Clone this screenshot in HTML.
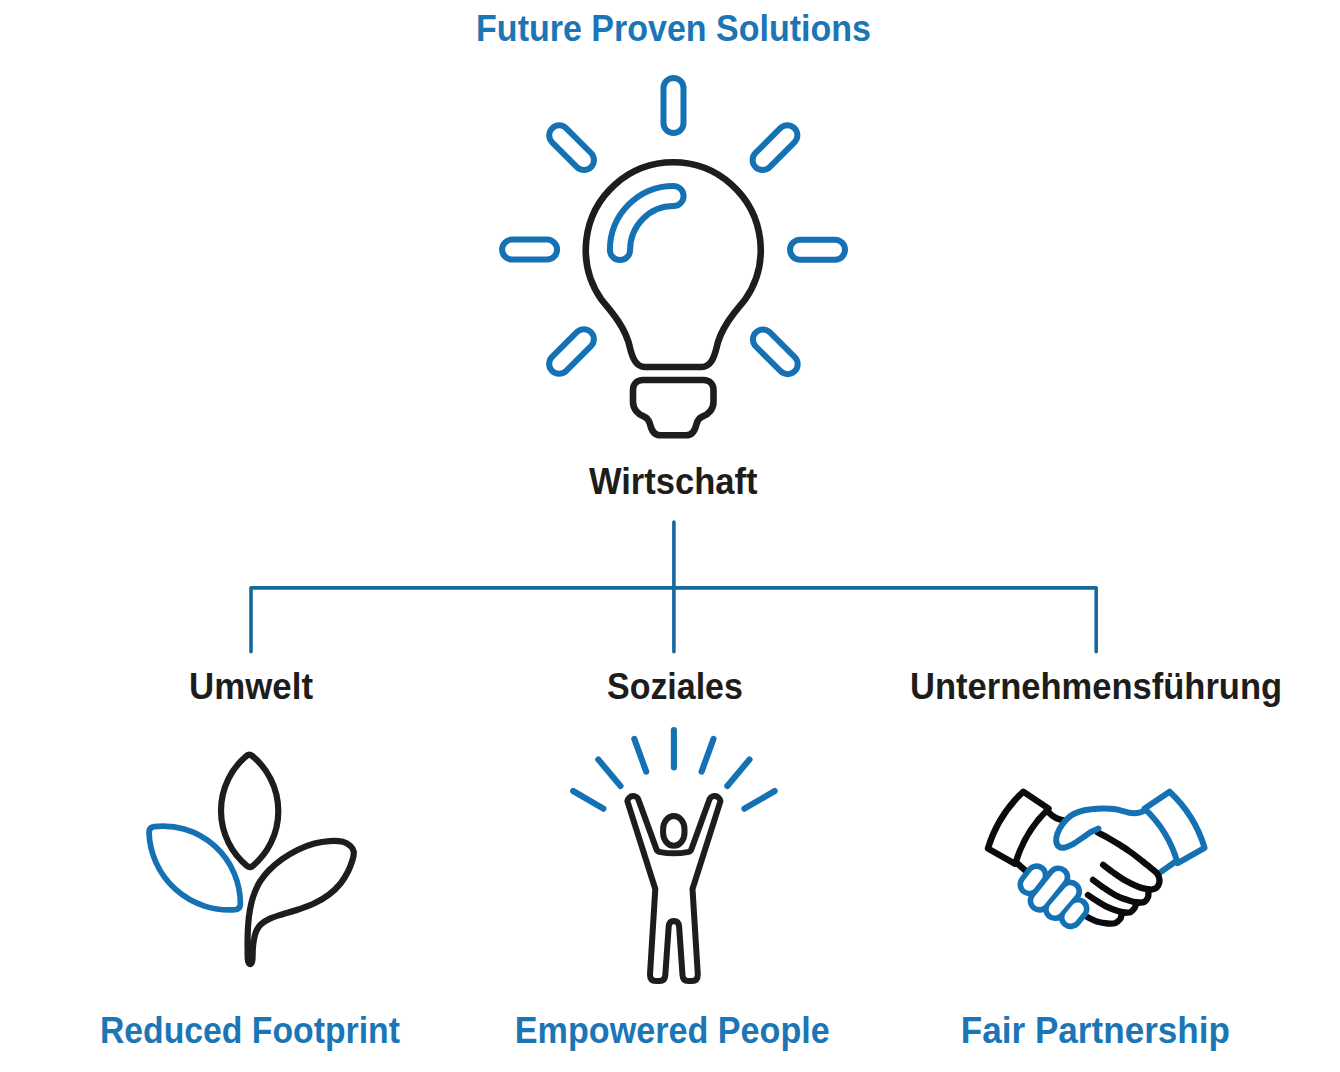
<!DOCTYPE html>
<html lang="de">
<head>
<meta charset="utf-8">
<title>Future Proven Solutions</title>
<style>
  html, body { margin: 0; padding: 0; background: #ffffff; }
  body { width: 1340px; height: 1072px; overflow: hidden; position: relative;
         font-family: "Liberation Sans", sans-serif; }
  svg { position: absolute; left: 0; top: 0; display: block; }
  text { font-family: "Liberation Sans", sans-serif; font-weight: bold; font-size: 36px; }
  .blue { fill: #1c76b6; }
  .dark { fill: #1d1d1b; }
  .sb { fill: none; stroke: #1472b4; stroke-linecap: round; stroke-linejoin: round; }
  .sk { fill: none; stroke: #1d1d1b; stroke-linecap: round; stroke-linejoin: round; }
  .sw { fill: none; stroke: #ffffff; stroke-linecap: round; stroke-linejoin: round; }
</style>
</head>
<body>
<svg width="1340" height="1072" viewBox="0 0 1340 1072">

  <!-- ======== TEXT ======== -->
  <g id="labels">
    <text class="blue" x="476.1" y="41" textLength="394.8" lengthAdjust="spacingAndGlyphs">Future Proven Solutions</text>
    <text class="dark" x="589" y="494" textLength="168.5" lengthAdjust="spacingAndGlyphs">Wirtschaft</text>
    <text class="dark" x="189.1" y="699" textLength="123.9" lengthAdjust="spacingAndGlyphs">Umwelt</text>
    <text class="dark" x="607" y="699" textLength="135.9" lengthAdjust="spacingAndGlyphs">Soziales</text>
    <text class="dark" x="910" y="699" textLength="372.1" lengthAdjust="spacingAndGlyphs">Unternehmensführung</text>
    <text class="blue" x="99.9" y="1042.5" textLength="300" lengthAdjust="spacingAndGlyphs">Reduced Footprint</text>
    <text class="blue" x="514.8" y="1042.5" textLength="315" lengthAdjust="spacingAndGlyphs">Empowered People</text>
    <text class="blue" x="960.8" y="1042.5" textLength="269.2" lengthAdjust="spacingAndGlyphs">Fair Partnership</text>
  </g>

  <!-- ======== TREE LINES ======== -->
  <g id="tree" class="sb" stroke-width="3.6" style="stroke:#15699f">
    <path d="M673.9 522 V651.8"/>
    <path d="M251 651.8 V587.9 H1096.2 V651.8"/>
  </g>

  <!-- ======== BULB ======== -->
  <g id="bulb">
    <!-- rays -->
    <g class="sb" stroke-width="6">
      <rect x="-10" y="-27.5" width="20" height="55" rx="10" ry="10" transform="translate(673.5 105.5) rotate(0)"/>
      <rect x="-10" y="-27.5" width="20" height="55" rx="10" ry="10" transform="translate(571.6 147.7) rotate(-45)"/>
      <rect x="-10" y="-27.5" width="20" height="55" rx="10" ry="10" transform="translate(774.97 147.6) rotate(45)"/>
      <rect x="-10" y="-27.5" width="20" height="55" rx="10" ry="10" transform="translate(529.6 249.6) rotate(90)"/>
      <rect x="-10" y="-27.5" width="20" height="55" rx="10" ry="10" transform="translate(817.5 249.7) rotate(90)"/>
      <rect x="-10" y="-27.5" width="20" height="55" rx="10" ry="10" transform="translate(571.5 351.5) rotate(45)"/>
      <rect x="-10" y="-27.5" width="20" height="55" rx="10" ry="10" transform="translate(775.3 351.8) rotate(-45)"/>
    </g>
    <!-- highlight -->
    <path class="sb" stroke-width="26.2" d="M620 250 A53.5 54 0 0 1 673.5 196"/>
    <path class="sw" stroke-width="14.2" d="M620 250 A53.5 54 0 0 1 673.5 196"/>
    <!-- glass -->
    <path class="sk" stroke-width="6.6" d="M601.62 299.91 A87.45 87.45 0 1 1 744.88 299.91 C735.5 311 720.5 328 716.5 348 C714.0 358 710.5 367 701.5 367 H645 C636 367 632.5 358 630 348 C626 328 611 311 601.62 299.91 Z"/>
    <!-- base -->
    <path class="sk" stroke-width="6.6" d="M643 380 H703.5 C709.5 380 713.5 384 713.5 390 V402 C713.5 409 708.5 414.5 702.5 416.5 C699 418 697.5 420 696.5 424 C695 431 691.5 435.3 686 435.3 H660.5 C655 435.3 651.5 431 650 424 C649 420 647.5 418 644 416.5 C638 414.5 633 409 633 402 V390 C633 384 637 380 643 380 Z"/>
  </g>

  <!-- ======== LEAVES ======== -->
  <g id="leaves">
    <path class="sb" stroke-width="5.7" d="M149.01 832.40 A80.26 80.26 0 0 0 235.23 909.73 Q240.20 909.20 240.39 904.20 A77.54 77.54 0 0 0 153.94 826.67 Q149.00 827.40 149.01 832.40 Z"/>
    <path class="sk" stroke-width="6.2" d="M246.57 755.79 A71.70 71.70 0 0 0 247.14 866.04 Q249.90 868.20 252.64 866.02 A71.55 71.55 0 0 0 252.06 755.75 Q249.30 753.60 246.57 755.79 Z"/>
    <path class="sk" stroke-width="6.2" d="M250.2 964.2 C249.6 964.2 248.9 963.5 248.5 962.6 C248.1 961.7 248.0 961.3 247.8 959.0 C247.6 956.7 247.6 952.5 247.6 948.9 C247.5 945.3 247.5 941.5 247.6 937.6 C247.7 933.7 247.8 929.6 248.1 925.7 C248.4 921.8 248.7 917.8 249.3 914.0 C249.8 910.1 250.6 906.3 251.5 902.6 C252.4 898.9 253.5 895.2 255.0 891.6 C256.4 888.1 257.9 884.7 260.2 881.2 C262.5 877.7 265.2 874.1 268.8 870.5 C272.4 866.9 277.0 862.8 281.9 859.3 C286.8 855.8 292.6 852.3 298.0 849.7 C303.4 847.0 309.2 844.9 314.4 843.5 C319.7 842.1 324.8 841.4 329.5 841.1 C334.2 840.8 339.3 841.0 342.8 841.8 C346.3 842.6 348.6 844.4 350.4 846.0 C352.2 847.6 353.3 849.3 353.7 851.6 C354.1 853.9 353.5 856.7 352.5 860.0 C351.5 863.3 350.0 867.6 348.0 871.5 C346.0 875.5 343.6 879.6 340.5 883.5 C337.4 887.3 333.5 891.2 329.1 894.5 C324.8 897.8 319.6 900.8 314.4 903.3 C309.3 905.8 303.5 907.7 298.2 909.5 C292.9 911.4 287.3 912.7 282.5 914.2 C277.7 915.8 273.0 917.2 269.4 918.9 C265.8 920.6 262.9 922.4 260.7 924.5 C258.5 926.6 257.2 928.9 256.1 931.5 C255.0 934.0 254.4 936.8 253.9 939.8 C253.3 942.8 253.0 946.3 252.8 949.5 C252.6 952.7 252.7 956.8 252.5 959.0 C252.3 961.2 252.2 961.7 251.8 962.6 C251.4 963.5 250.8 964.2 250.2 964.2 Z"/>
  </g>

  <!-- ======== PERSON ======== -->
  <g id="person">
    <g class="sb" stroke-width="6.1">
      <path d="M673.9 730.1 V767.4"/>
      <path d="M634.3 738.9 L646.2 771.6"/>
      <path d="M713.5 738.9 L701.6 771.6"/>
      <path d="M598.3 759.5 L620.5 786"/>
      <path d="M749.5 759.5 L727.3 786"/>
      <path d="M573.1 791 L603.4 808.7"/>
      <path d="M774.7 791 L744.4 808.7"/>
    </g>
    <rect class="sk" stroke-width="6" x="663.1" y="816" width="21.4" height="29.8" rx="10.7" ry="13"/>
    <path class="sk" stroke-width="6" d="M627.35 801.2 L655.3 889.0 L650 974.5 Q650 981.0 656 981.0 L659.4 981.0 Q665 981.0 665.3 975 L668.7 926.5 Q669.2 921 673.9 921 Q678.6 921 679.1 926.5 L682.5 975 Q682.8 981.0 688.4 981.0 L691.8 981.0 Q697.8 981.0 697.8 974.5 L692.5 889.0 L720.45 801.2 A5.85 5.85 0 0 0 708.9 800.9 L691.3 849.4 Q690.5 851.6 687.5 852.1 Q673.9 854.6 660.3 852.1 Q657.3 851.6 656.5 849.4 L638.9 800.9 A5.85 5.85 0 0 0 627.35 801.2 Z"/>
  </g>

  <!-- ======== HANDSHAKE ======== -->
  <g id="handshake">
    <!-- blue wrist (under black) -->
    <path class="sb" stroke-width="6" d="M1174.6 862.3 L1158.5 873.6"/>
    <!-- black cuff + wrist -->
    <g class="sk" stroke-width="6.3" style="stroke:#0b0b0d">
      <path d="M1023.2 791.7 L1048.6 808.7 Q1024.4 831.8 1015.3 863.9 L987.9 848.4 Q998.0 815.3 1023.2 791.7 Z"/>
      <path d="M1049 812.6 Q1055 819.3 1064.5 820.5"/>
      <path d="M1017.6 863.6 L1026 871.2"/>
      <path d="M1097.8 832.5 C1099.7 833.5 1105.3 836.3 1109.0 838.4 C1112.7 840.5 1116.4 842.7 1120.0 845.0 C1123.6 847.3 1127.2 849.8 1130.4 852.0 C1133.6 854.2 1136.2 856.2 1139.0 858.4 C1141.8 860.6 1144.4 862.9 1147.2 865.1 C1150.0 867.4 1153.6 869.9 1155.6 871.9 C1157.5 873.9 1158.3 875.1 1158.9 876.9 C1159.5 878.7 1159.7 881.0 1159.3 882.8 C1158.9 884.6 1157.7 886.8 1156.4 887.9 C1155.1 889.0 1152.7 889.2 1151.4 889.5 C1150.1 889.8 1149.2 889.5 1148.8 889.5"/>
      <path d="M1103.1 864.8 C1104.8 866.1 1109.8 870.0 1113.6 872.7 C1117.4 875.4 1122.0 878.7 1126.2 881.1 C1130.4 883.5 1135.0 885.6 1138.8 887.0 C1142.6 888.4 1147.1 889.1 1148.8 889.5"/>
      <path d="M1148.6 889.5 C1148.6 890.1 1148.5 891.7 1148.4 893.0 C1148.3 894.3 1148.6 895.6 1148.0 897.1 C1147.4 898.6 1146.1 900.8 1144.6 901.7 C1143.1 902.6 1139.8 902.5 1138.8 902.6"/>
      <path d="M1093.0 879.9 C1095.0 881.4 1101.1 886.0 1105.2 888.7 C1109.3 891.4 1113.6 894.3 1117.8 896.3 C1122.0 898.3 1126.9 899.8 1130.4 900.9 C1133.9 902.0 1137.4 902.3 1138.8 902.6"/>
      <path d="M1136.3 902.3 C1136.2 902.7 1136.1 903.5 1135.8 904.5 C1135.5 905.5 1135.5 906.7 1134.6 908.0 C1133.7 909.3 1132.0 911.4 1130.4 912.2 C1128.9 913.0 1126.2 912.5 1125.3 912.6"/>
      <path d="M1088.0 895.0 C1089.5 896.0 1093.5 898.9 1096.8 900.9 C1100.1 902.9 1104.2 905.5 1107.7 907.2 C1111.2 908.9 1114.9 910.1 1117.8 911.0 C1120.7 911.9 1124.0 912.3 1125.3 912.6"/>
      <path d="M1122.0 912.2 C1121.9 912.6 1121.9 913.4 1121.6 914.5 C1121.3 915.6 1121.3 917.5 1120.3 918.9 C1119.2 920.3 1117.4 922.3 1115.3 923.1 C1113.2 923.9 1110.8 923.8 1107.7 923.5 C1104.6 923.2 1100.2 922.4 1096.8 921.4 C1093.4 920.4 1089.1 917.9 1087.6 917.2"/>
    </g>
    <!-- blue cuff + hand -->
    <g class="sb" stroke-width="6">
      <path d="M1169.6 791.7 L1144.6 808.6 Q1168.7 831.3 1177.7 863.2 L1204.6 847.8 Q1194.7 815.0 1169.6 791.7 Z"/>
      <path d="M1146.0 809.6 C1145.3 810.0 1143.5 811.1 1142.0 811.7 C1140.5 812.3 1139.1 812.8 1137.0 813.0 C1134.9 813.2 1132.8 813.3 1129.2 812.7 C1125.6 812.1 1120.0 810.0 1115.7 809.3 C1111.4 808.6 1107.5 808.5 1103.4 808.5 C1099.3 808.5 1095.2 808.7 1091.1 809.3 C1086.9 809.8 1082.2 810.7 1078.7 811.8 C1075.3 812.9 1073.3 813.7 1070.5 815.9 C1067.8 818.0 1064.5 821.5 1062.3 824.5 C1060.1 827.4 1058.4 830.8 1057.4 833.5 C1056.4 836.3 1055.9 838.7 1056.2 840.9 C1056.4 843.1 1057.6 845.6 1059.0 846.7 C1060.5 847.7 1062.5 847.9 1064.8 847.5 C1067.1 847.1 1070.0 845.8 1073.0 844.2 C1076.0 842.5 1079.8 839.7 1082.8 837.6 C1085.9 835.6 1088.5 833.4 1091.1 831.9 C1093.7 830.4 1097.2 829.1 1098.4 828.6"/>
    </g>
    <!-- blue finger lobes -->
    <g class="sb" stroke-width="23.8">
      <path d="M1036.5 875.2 L1029.4 884.4"/>
      <path d="M1058.4 877.3 L1039.5 900.8"/>
      <path d="M1070.2 891.5 L1055 909.2"/>
      <path d="M1077.6 908.8 L1070.7 917.3"/>
    </g>
    <g class="sw" stroke-width="12.6">
      <path d="M1036.5 875.2 L1029.4 884.4"/>
      <path d="M1058.4 877.3 L1039.5 900.8"/>
      <path d="M1070.2 891.5 L1055 909.2"/>
      <path d="M1077.6 908.8 L1070.7 917.3"/>
    </g>
  </g>

</svg>
</body>
</html>
